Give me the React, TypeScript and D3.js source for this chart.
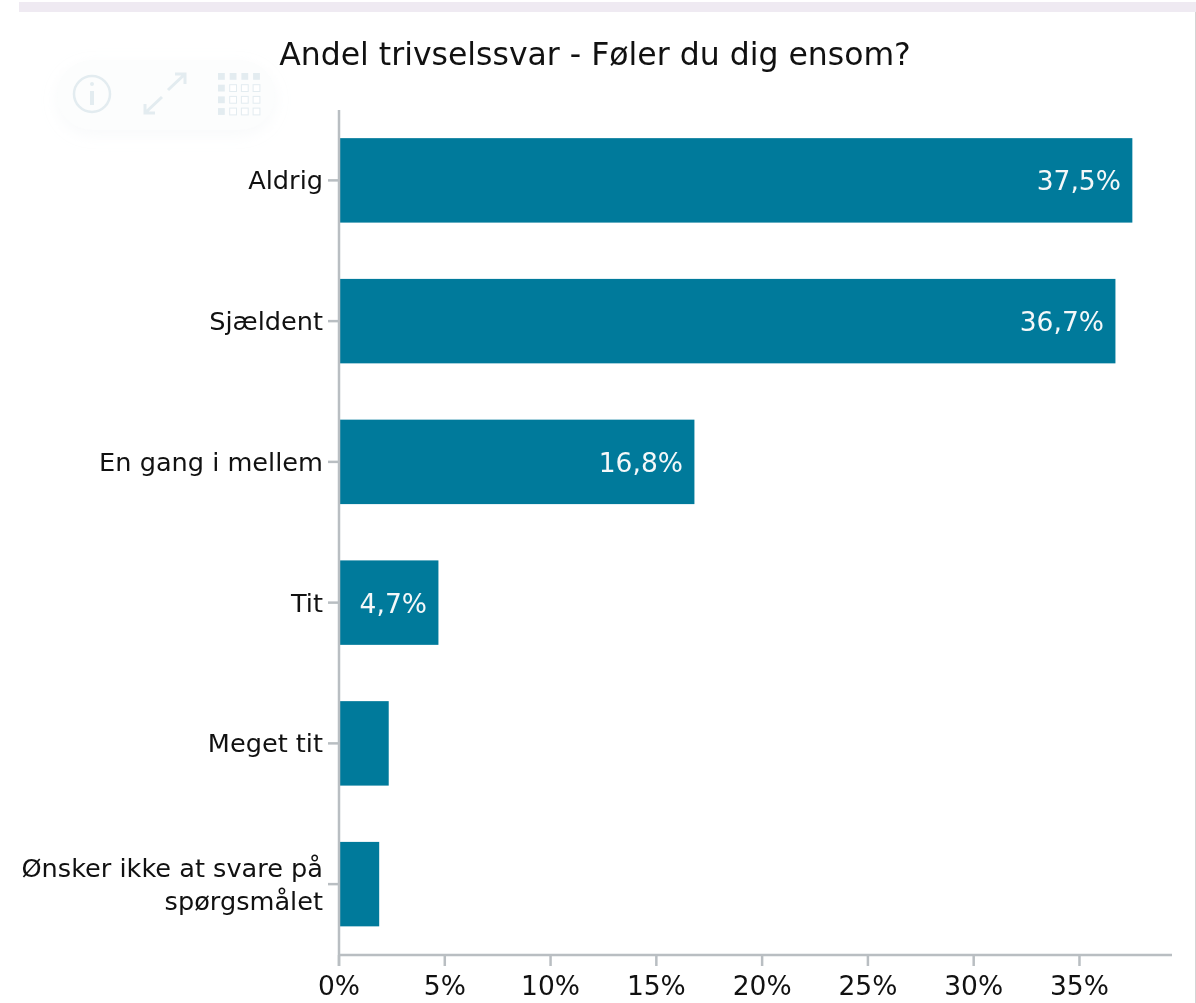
import React from "react";
import * as d3 from "d3";

const categories = ["Aldrig", "Sjældent", "En gang i mellem", "Tit", "Meget tit", "Ønsker ikke at svare på|spørgsmålet"];
const values = [37.5, 36.7, 16.8, 4.7, 2.35, 1.9];
const barLabels = ["37,5%", "36,7%", "16,8%", "4,7%", "", ""];
const xTicks = [0, 5, 10, 15, 20, 25, 30, 35];
const titleText = "Andel trivselssvar - Føler du dig ensom?";

const FONT = "'DejaVu Sans', Verdana, sans-serif";
const AXIS = "#b9bec2";
const BAR = "#007a9b";
const ICON = "#e3ecf0";

const x = d3.scaleLinear().domain([0, 39.35]).range([339, 1171.5]);
const y = d3.scaleBand<string>().domain(categories).range([110, 954.5]).paddingInner(0.4).paddingOuter(0.2);
const gridCols = d3.range(4);

export default function App() {
  return (
    <svg width={1196} height={1003} style={{ position: "absolute", left: 0, top: 0, background: "#fff", filter: "blur(0.35px)" }} fontFamily={FONT}>
      <defs>
        <filter id="pillShadow" x="-20%" y="-40%" width="140%" height="180%">
          <feDropShadow dx="0" dy="5" stdDeviation="8" floodColor="#dfe6ea" floodOpacity="0.22" />
        </filter>
      </defs>
      <rect x={19} y={2} width={1177} height={10} fill="#efeaf2" />
      <rect x={1195} y={12} width={1} height={991} fill="#d4d4d4" />

      <text x={595} y={65} textAnchor="middle" fontSize={31.5} fill="#111">{titleText}</text>

      <rect x={57} y={60} width={218} height={70} rx={35} fill="#fcfdfd" filter="url(#pillShadow)" />
      <g stroke={ICON} fill="none">
        <circle cx={92} cy={94} r={18} strokeWidth={2.5} />
        <line x1={92} y1={91} x2={92} y2={105} strokeWidth={4} />
        <circle cx={92} cy={84} r={2} fill={ICON} stroke="none" />
        <path d="M145 113 L162 97 M168 90 L185 74 M175 74 L185 74 L185 84 M145 104 L145 113 L155 113" strokeWidth={3} />
      </g>
      {gridCols.map((c) =>
        gridCols.map((r) => {
          const filled = r === 0 || c === 0;
          return (
            <rect key={`${c}-${r}`} x={218 + c * 11.7} y={73 + r * 11.7} width={6.8} height={6.8}
              fill={filled ? ICON : "#fff"} stroke={filled ? "none" : ICON} strokeWidth={1} />
          );
        })
      )}

      {categories.map((c, i) => {
        const by = y(c)!;
        const h = y.bandwidth();
        const mid = by + h / 2;
        const lines = c.split("|");
        return (
          <g key={c}>
            <rect x={x(0)} y={by} width={x(values[i]) - x(0)} height={h} fill={BAR} />
            {barLabels[i] && (
              <text x={x(values[i]) - 11.5} y={mid + 10} textAnchor="end" fontSize={26.5} fill="#f4f8f9">{barLabels[i]}</text>
            )}
            <line x1={328} x2={339} y1={mid} y2={mid} stroke={AXIS} strokeWidth={2.5} />
            {lines.map((l, j) => (
              <text key={l} x={323} y={mid + 9 + (j - (lines.length - 1) / 2) * 33} textAnchor="end" fontSize={25.6} fill="#111">{l}</text>
            ))}
          </g>
        );
      })}

      <line x1={339} x2={339} y1={110} y2={966} stroke={AXIS} strokeWidth={2.5} />
      <line x1={338} x2={1172} y1={955} y2={955} stroke={AXIS} strokeWidth={2.5} />
      {xTicks.map((t) => (
        <g key={t}>
          <line x1={x(t)} x2={x(t)} y1={955} y2={966} stroke={AXIS} strokeWidth={2.5} />
          <text x={x(t)} y={995} textAnchor="middle" fontSize={26.5} fill="#111">{t}%</text>
        </g>
      ))}
    </svg>
  );
}
